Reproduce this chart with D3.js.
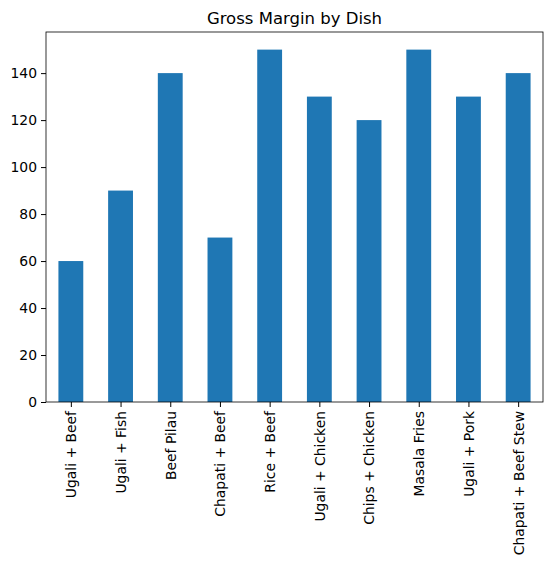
<!DOCTYPE html>
<html><head><meta charset="utf-8">
<script src="https://cdn.jsdelivr.net/npm/d3@7"></script>
<style>body{margin:0;background:#fff}text{font-family:"DejaVu Sans",sans-serif;fill:#000}</style>
</head><body>
<script>
const categories=["Ugali + Beef","Ugali + Fish","Beef Pilau","Chapati + Beef","Rice + Beef","Ugali + Chicken","Chips + Chicken","Masala Fries","Ugali + Pork","Chapati + Beef Stew"];
const values=[60,90,140,70,150,130,120,150,130,140];
const yTicks=[0,20,40,60,80,100,120,140];
const W=552,H=566,L=46,R=543,T=32,B=402;
const svg=d3.select("body").append("svg").attr("width",W).attr("height",H);
const x=d3.scaleLinear().domain([-0.5,categories.length-0.5]).range([L,R]);
const y=d3.scaleLinear().domain([0,d3.max(values)*1.05]).range([B,T]);
svg.selectAll("rect.bar").data(values).join("rect").attr("class","bar")
 .attr("x",(d,i)=>x(i-0.25)).attr("width",x(0.25)-x(-0.25))
 .attr("y",d=>y(d)).attr("height",d=>B-y(d)).attr("fill","#1f77b4");
const ya=svg.append("g").attr("transform",`translate(${L},0)`).call(d3.axisLeft(y).tickValues(yTicks).tickSize(5).tickPadding(4));
const xa=svg.append("g").attr("transform",`translate(0,${B})`).call(d3.axisBottom(x).tickValues(d3.range(categories.length)).tickFormat(i=>categories[i]).tickSize(5));
[ya,xa].forEach(g=>{g.select(".domain").remove();g.selectAll("text").style("font-size","13.9px").attr("fill","#000");g.selectAll("line").attr("stroke","#000");});
xa.selectAll("text").attr("transform","rotate(-90)").attr("text-anchor","end").attr("x",-9).attr("y",0).attr("dy","0.35em");
svg.append("rect").attr("x",L).attr("y",T).attr("width",R-L).attr("height",B-T).attr("fill","none").attr("stroke","#000").attr("stroke-width",0.8);
svg.append("text").attr("x",(L+R)/2).attr("y",T-8).attr("text-anchor","middle").style("font-size","16.5px").text("Gross Margin by Dish");
</script></body></html>
